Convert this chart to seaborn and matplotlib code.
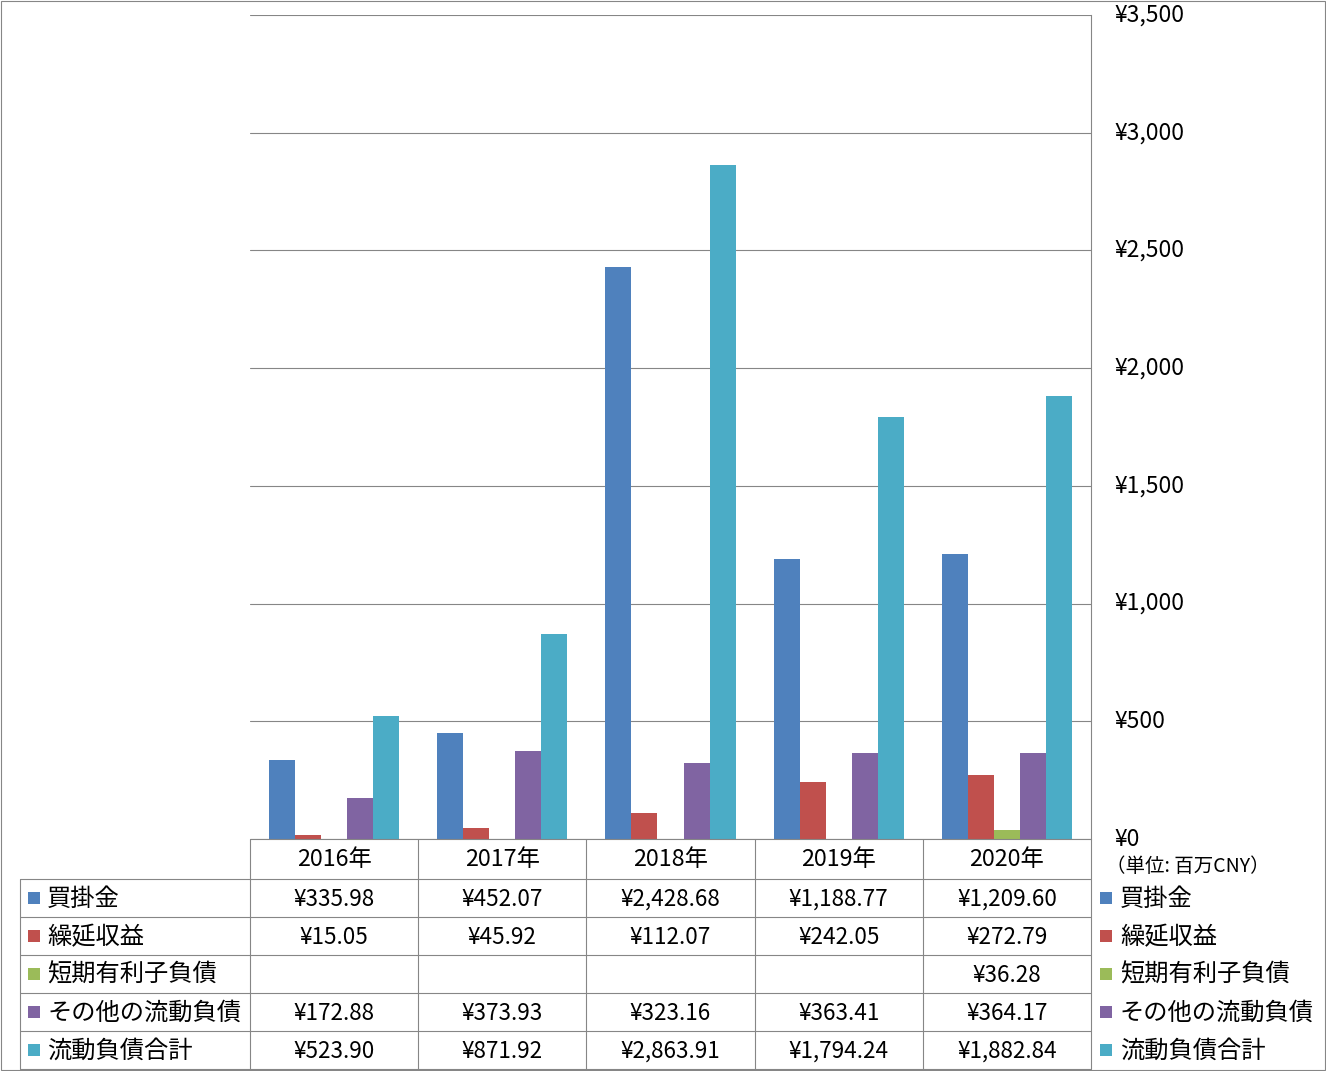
import matplotlib
matplotlib.use("Agg")
import matplotlib.pyplot as plt
from matplotlib.ticker import FuncFormatter
from matplotlib.patches import Rectangle
import numpy as np
import pandas as pd
import seaborn as sns

# ---- data ----
years = ["2016年", "2017年", "2018年", "2019年", "2020年"]
series_names = ["買掛金", "繰延収益", "短期有利子負債", "その他の流動負債", "流動負債合計"]
accounts_payable = [335.98, 452.07, 2428.68, 1188.77, 1209.60]
deferred_revenue = [15.05, 45.92, 112.07, 242.05, 272.79]
short_term_debt = [np.nan, np.nan, np.nan, np.nan, 36.28]
other_current = [172.88, 373.93, 323.16, 363.41, 364.17]
total_current = [523.90, 871.92, 2863.91, 1794.24, 1882.84]
colors = ["#4F81BD", "#C0504D", "#9BBB59", "#8064A2", "#4BACC6"]
y_ticks = [0, 500, 1000, 1500, 2000, 2500, 3000, 3500]
unit_label = "（単位: 百万CNY）"

series_values = [accounts_payable, deferred_revenue, short_term_debt, other_current, total_current]
rows = []
for name, vals in zip(series_names, series_values):
    for y, v in zip(years, vals):
        rows.append({"year": y, "series": name, "value": v})
df = pd.DataFrame(rows)

sns.set_theme(style="white")
plt.rcParams["font.family"] = ["Noto Sans CJK JP", "DejaVu Sans"]

W, H = 1326, 1071
fig = plt.figure(figsize=(W / 100, H / 100), dpi=100)

# pixel layout
x_left, x_right = 250, 1091
y_top, y_bot = 15, 839
ax = fig.add_axes([x_left / W, 1 - y_bot / H, (x_right - x_left) / W, (y_bot - y_top) / H])

sns.barplot(data=df, x="year", y="value", hue="series", order=years,
            hue_order=series_names, palette=colors, width=0.775,
            dodge=True, ax=ax, legend=False, saturation=1, errorbar=None)
for p in ax.patches:
    p.set_edgecolor("none")

ax.set_xlim(-0.5, len(years) - 0.5)
ax.set_ylim(0, 3500)
ax.set_yticks(y_ticks)
ax.yaxis.set_major_formatter(FuncFormatter(lambda v, _: f"¥{v:,.0f}"))
ax.yaxis.tick_right()
ax.tick_params(axis="y", length=0, pad=17, labelsize=16.5, colors="black")
for lbl in ax.get_yticklabels():
    lbl.set_va("center")
ax.set_xticks([])
ax.set_xlabel("")
ax.set_ylabel("")
ax.grid(axis="y", color="#868686", linewidth=0.8)
ax.set_axisbelow(True)
for s in ["left", "top", "bottom"]:
    ax.spines[s].set_visible(False)
ax.spines["right"].set_color("#868686")
ax.spines["right"].set_linewidth(0.8)

# ---- overlay for table (pixel coordinates) ----
ov = fig.add_axes([0, 0, 1, 1], facecolor="none")
ov.set_xlim(0, W)
ov.set_ylim(H, 0)
ov.axis("off")

lc = "#868686"
lw = 0.8
col_w = (x_right - x_left) / len(years)
col_edges = [x_left + i * col_w for i in range(len(years) + 1)]
header_top, header_bot = 839, 879
row_h = 38
row_edges = [header_bot + i * row_h for i in range(len(series_names) + 1)]
label_left = 20

# horizontal lines
ov.plot([x_left, x_right], [header_top, header_top], color=lc, lw=lw)
for ye in row_edges:
    ov.plot([label_left, x_right], [ye, ye], color=lc, lw=lw)
# vertical lines
for xe in col_edges:
    ov.plot([xe, xe], [header_top, row_edges[-1]], color=lc, lw=lw)
ov.plot([label_left, label_left], [header_bot, row_edges[-1]], color=lc, lw=lw)

fs_num = 16.2
fs_cjk = 17.5
for i, yr in enumerate(years):
    ov.text((col_edges[i] + col_edges[i + 1]) / 2, (header_top + header_bot) / 2 + 1, yr,
            ha="center", va="center", fontsize=16.8, color="black")

for r, (name, vals, c) in enumerate(zip(series_names, series_values, colors)):
    yc = (row_edges[r] + row_edges[r + 1]) / 2
    # left label
    ov.add_patch(Rectangle((28, yc - 6), 12, 12, color=c, lw=0))
    ov.text(47, yc + 1, name, ha="left", va="center", fontsize=fs_cjk, color="black")
    # values
    for i, v in enumerate(vals):
        if not np.isnan(v):
            ov.text((col_edges[i] + col_edges[i + 1]) / 2, yc + 1, f"¥{v:,.2f}",
                    ha="center", va="center", fontsize=fs_num, color="black")
    # right legend
    ov.add_patch(Rectangle((1100, yc - 6), 12, 12, color=c, lw=0))
    ov.text(1120, yc + 1, name, ha="left", va="center", fontsize=fs_cjk, color="black")

ov.text(1106, 866, unit_label, ha="left", va="center", fontsize=14, color="black")

# outer border
ov.add_patch(Rectangle((0.5, 0.5), W - 1.5, H - 1.5, fill=False, edgecolor=lc, lw=lw))

fig.savefig("out.png", dpi=100, facecolor="white")
